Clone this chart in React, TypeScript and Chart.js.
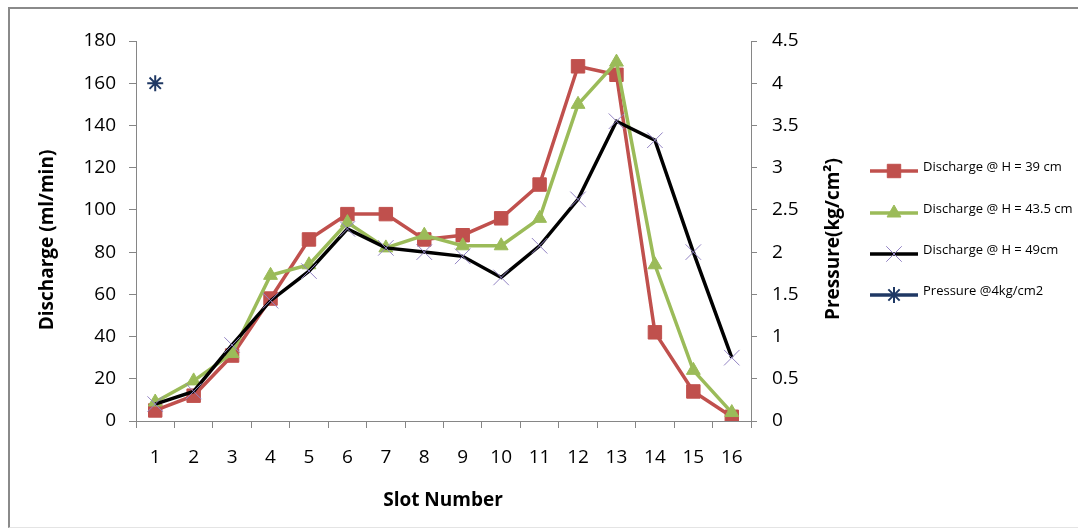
import React, { useEffect, useRef } from "react";
import { Chart, registerables } from "chart.js";
import { drawPoint } from "chart.js/helpers";

Chart.register(...registerables);

const slots = ["1", "2", "3", "4", "5", "6", "7", "8", "9", "10", "11", "12", "13", "14", "15", "16"];
const dischargeH39 = [5, 12, 31, 58, 86, 98, 98, 86, 88, 96, 112, 168, 164, 42, 14, 2];
const dischargeH435 = [9, 19, 32, 69, 74, 94, 82, 88, 83, 83, 96, 150, 170, 74, 24, 4];
const dischargeH49 = [8, 14, 36, 57, 71, 91, 82, 80, 78, 68, 83, 105, 142, 133, 80, 30];
const pressure4 = [4, null, null, null, null, null, null, null, null, null, null, null, null, null, null, null];

const seriesLabels = ["Discharge @ H = 39 cm", "Discharge @ H = 43.5 cm", "Discharge @ H = 49cm", "Pressure @4kg/cm2"];
const xTitle = "Slot Number";
const yTitle = "Discharge (ml/min)";
const y1Title = "Pressure(kg/cm²)";

const AXIS = "#868686";
const FONT = '"Open Sans", sans-serif';

const overlay = {
  id: "overlay",
  afterDraw(chart: any) {
    const ctx = chart.ctx as CanvasRenderingContext2D;
    ctx.save();
    ctx.fillStyle = "#000";
    ctx.font = `bold 19px ${FONT}`;
    ctx.textAlign = "center";
    ctx.textBaseline = "middle";
    ctx.fillText(xTitle, 433, 492);
    ctx.save();
    ctx.translate(38, 231);
    ctx.rotate(-Math.PI / 2);
    ctx.fillText(yTitle, 0, 0);
    ctx.restore();
    ctx.save();
    ctx.translate(824, 230);
    ctx.rotate(-Math.PI / 2);
    ctx.fillText(y1Title, 0, 0);
    ctx.restore();

    // legend
    const rows = [162, 204, 245, 286];
    chart.data.datasets.forEach((ds: any, i: number) => {
      const y = rows[i];
      ctx.strokeStyle = ds.borderColor;
      ctx.lineWidth = 3.5;
      ctx.beginPath();
      ctx.moveTo(860, y);
      ctx.lineTo(908, y);
      ctx.stroke();
      ctx.fillStyle = ds.pointBackgroundColor;
      ctx.strokeStyle = ds.pointBorderColor;
      ctx.lineWidth = ds.pointBorderWidth;
      drawPoint(ctx, { pointStyle: ds.pointStyle, radius: ds.pointRadius, rotation: 0, borderWidth: ds.pointBorderWidth }, 884, y);
      ctx.fillStyle = "#000";
      ctx.font = `13px ${FONT}`;
      ctx.textAlign = "left";
      ctx.textBaseline = "middle";
      ctx.fillText(ds.label, 913, y - 4);
    });
    ctx.restore();
  },
};

export default function App() {
  const ref = useRef<HTMLCanvasElement>(null);
  useEffect(() => {
    if (!ref.current) return;
    const chart = new Chart(ref.current, {
      type: "line",
      data: {
        labels: slots,
        datasets: [
          {
            label: seriesLabels[0],
            data: dischargeH39,
            yAxisID: "y",
            borderColor: "#c0504d",
            backgroundColor: "#c0504d",
            borderWidth: 3.5,
            pointStyle: "rect",
            pointRadius: 9.5,
            pointBackgroundColor: "#c0504d",
            pointBorderColor: "#c0504d",
            pointBorderWidth: 1,
            order: 4,
          },
          {
            label: seriesLabels[1],
            data: dischargeH435,
            yAxisID: "y",
            borderColor: "#9bbb59",
            backgroundColor: "#9bbb59",
            borderWidth: 3.5,
            pointStyle: "triangle",
            pointRadius: 8,
            pointBackgroundColor: "#9bbb59",
            pointBorderColor: "#9bbb59",
            pointBorderWidth: 1,
            order: 3,
          },
          {
            label: seriesLabels[2],
            data: dischargeH49,
            yAxisID: "y",
            borderColor: "#000000",
            backgroundColor: "#000000",
            borderWidth: 3.5,
            pointStyle: "crossRot",
            pointRadius: 11,
            pointBackgroundColor: "#9384c4",
            pointBorderColor: "#9384c4",
            pointBorderWidth: 1,
            order: 2,
          },
          {
            label: seriesLabels[3],
            data: pressure4,
            yAxisID: "y1",
            borderColor: "#1f3864",
            backgroundColor: "#1f3864",
            borderWidth: 3.5,
            pointStyle: "star",
            pointRadius: 8,
            pointBackgroundColor: "#1f3864",
            pointBorderColor: "#1f3864",
            pointBorderWidth: 2,
            showLine: false,
            order: 1,
          },
        ],
      },
      options: {
        responsive: false,
        animation: false,
        devicePixelRatio: 1,
        layout: { padding: { left: 0, right: 227, top: 32, bottom: 0 } },
        plugins: { legend: { display: false }, tooltip: { enabled: false } },
        elements: { line: { tension: 0 } },
        scales: {
          x: {
            type: "category",
            offset: true,
            grid: { display: true, offset: true, drawOnChartArea: false, tickLength: 7, color: AXIS },
            border: { display: true, color: AXIS, width: 1 },
            ticks: { color: "#000", font: { family: FONT, size: 19 }, padding: 18, maxRotation: 0 },
            afterFit: (s: any) => { s.height = 106; },
          },
          y: {
            position: "left",
            min: 0,
            max: 180,
            ticks: { stepSize: 20, color: "#000", font: { family: FONT, size: 19 }, padding: 13 },
            grid: { drawOnChartArea: false, tickLength: 7, color: AXIS },
            border: { display: true, color: AXIS, width: 1 },
            afterFit: (s: any) => { s.width = 126; },
          },
          y1: {
            position: "right",
            min: 0,
            max: 4.5,
            ticks: {
              stepSize: 0.5,
              color: "#000",
              font: { family: FONT, size: 19 },
              padding: 15,
              callback: (v: any) => String(Math.round(Number(v) * 10) / 10),
            },
            grid: { drawOnChartArea: false, tickLength: 6, color: AXIS },
            border: { display: true, color: AXIS, width: 1 },
            afterFit: (s: any) => { s.width = 100; },
          },
        },
      },
      plugins: [overlay],
    });
    return () => chart.destroy();
  }, []);
  return (
    <div
      style={{
        position: "absolute",
        left: 8,
        top: 7,
        width: 1068,
        height: 518,
        borderLeft: "2px solid #8a8a8a",
        borderTop: "2px solid #8a8a8a",
        borderBottom: "1px solid #e4e4e4",
        background: "#fff",
      }}
    >
      <canvas ref={ref} width={1068} height={518} style={{ display: "block" }} />
    </div>
  );
}
